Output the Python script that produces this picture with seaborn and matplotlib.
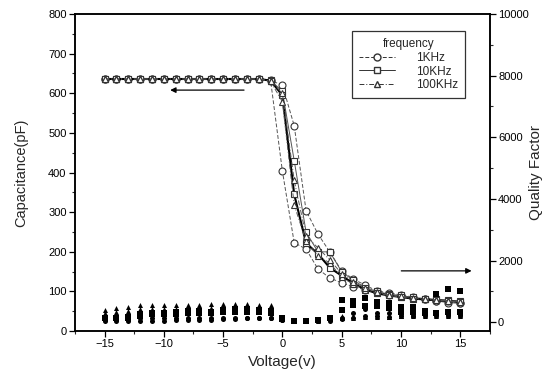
import numpy as np
import pandas as pd
import matplotlib
matplotlib.use("Agg")
import matplotlib.pyplot as plt
from matplotlib.ticker import MultipleLocator
from matplotlib.lines import Line2D
import seaborn as sns

# --------------------------------------------------------------------------
# Data
# --------------------------------------------------------------------------
voltage = list(range(-15, 16))
flat = [636] * 14  # -15 .. -2

cap_1k_a = flat + [634, 404, 223, 207, 157, 134, 122, 112, 104, 98, 92, 88, 84, 80, 76, 72, 70]
cap_1k_b = flat + [632, 621, 518, 304, 245, 200, 152, 131, 116, 101, 97, 91, 86, 81, 77, 76, 71]
cap_10k_a = flat + [633, 605, 430, 250, 200, 200, 150, 128, 110, 100, 93, 90, 85, 82, 80, 78, 75]
cap_10k_b = flat + [632, 595, 345, 222, 195, 160, 140, 120, 105, 95, 90, 86, 82, 80, 78, 76, 74]
cap_100k_a = flat + [630, 579, 318, 227, 190, 172, 136, 118, 104, 96, 90, 86, 82, 80, 78, 76, 73]
cap_100k_b = flat + [631, 600, 380, 240, 210, 180, 145, 125, 108, 98, 92, 88, 84, 81, 79, 77, 74]

q_1k_a = [130, 130, 130, 130, 130, 130, 130, 130, 135, 140, 140, 140, 140, 140, 140,
          65, 32, 32, 60, 100, 120, 290, 412, 300, 300, 250, 260, 240, 230, 230, 240]
q_1k_b = [42, 42, 42, 42, 45, 50, 60, 60, 70, 80, 100, 110, 120, 120, 130,
          60, 30, 30, 30, 32, 110, 120, 195, 200, 172, 195, 217, 227, 230, 227, 227]
q_10k_a = [140, 150, 170, 250, 300, 300, 330, 350, 360, 335, 400, 420, 420, 400, 367,
           120, 32, 32, 65, 150, 714, 680, 800, 640, 607, 477, 477, 367, 909, 1071, 1016]
q_10k_b = [120, 130, 150, 200, 250, 260, 280, 300, 300, 300, 330, 340, 340, 330, 300,
           100, 30, 30, 60, 120, 400, 550, 530, 530, 445, 335, 335, 300, 300, 330, 335]
q_100k_a = [390, 470, 500, 550, 560, 550, 560, 560, 570, 575, 575, 580, 575, 570, 550,
            150, 40, 35, 60, 170, 195, 195, 195, 195, 175, 195, 220, 230, 240, 230, 230]
q_100k_b = [300, 330, 350, 420, 440, 420, 440, 450, 460, 465, 470, 470, 465, 460, 420,
            130, 30, 30, 30, 140, 150, 150, 170, 180, 180, 190, 200, 205, 210, 205, 200]

FREQS = ["1KHz", "10KHz", "100KHz"]
MARKERS = {"1KHz": "o", "10KHz": "s", "100KHz": "^"}
LINESTYLES = {"1KHz": (0, (4, 2)), "10KHz": "-", "100KHz": (0, (5, 2, 1, 2))}

cap_series = {
    ("1KHz", "a"): cap_1k_a, ("1KHz", "b"): cap_1k_b,
    ("10KHz", "a"): cap_10k_a, ("10KHz", "b"): cap_10k_b,
    ("100KHz", "a"): cap_100k_a, ("100KHz", "b"): cap_100k_b,
}
q_series = {
    ("1KHz", "a"): q_1k_a, ("1KHz", "b"): q_1k_b,
    ("10KHz", "a"): q_10k_a, ("10KHz", "b"): q_10k_b,
    ("100KHz", "a"): q_100k_a, ("100KHz", "b"): q_100k_b,
}

# --------------------------------------------------------------------------
# Plot
# --------------------------------------------------------------------------
sns.set_style("ticks")
plt.rcParams["font.family"] = ["Liberation Sans", "DejaVu Sans"]

fig = plt.figure(figsize=(5.43, 3.78), dpi=100)
ax = fig.add_axes([0.138, 0.124, 0.764, 0.839])

for (freq, branch), vals in cap_series.items():
    df = pd.DataFrame({"V": voltage, "C": vals})
    thick = freq == "10KHz" and branch == "b"
    sns.lineplot(data=df, x="V", y="C", ax=ax,
                 color="black" if thick else "#555555",
                 linewidth=1.5 if thick else 0.7,
                 linestyle=LINESTYLES[freq],
                 marker=MARKERS[freq], markersize=5,
                 markerfacecolor="white", markeredgecolor="#333333",
                 markeredgewidth=0.8)

ax2 = ax.twinx()
for (freq, branch), vals in q_series.items():
    df = pd.DataFrame({"V": voltage, "Q": vals})
    sns.scatterplot(data=df, x="V", y="Q", ax=ax2, color="black",
                    marker=MARKERS[freq], s=13, linewidth=0)

# arrows showing which axis each group belongs to
ax.annotate("", xy=(-9.7, 608), xytext=(-3, 608),
            arrowprops=dict(arrowstyle="-|>", color="black", lw=0.9,
                            mutation_scale=8))
ax.annotate("", xy=(16.2, 152), xytext=(9.8, 152),
            arrowprops=dict(arrowstyle="-|>", color="black", lw=0.9,
                            mutation_scale=8))

ax.set_xlim(-17.5, 17.5)
ax.set_ylim(0, 800)
ax2.set_ylim(-290, 10000)

ax.xaxis.set_major_locator(MultipleLocator(5))
ax.xaxis.set_minor_locator(MultipleLocator(2.5))
ax.yaxis.set_major_locator(MultipleLocator(100))
ax.yaxis.set_minor_locator(MultipleLocator(50))
ax2.yaxis.set_major_locator(MultipleLocator(2000))
ax2.yaxis.set_minor_locator(MultipleLocator(1000))

for a in (ax, ax2):
    for s in a.spines.values():
        s.set_visible(True)
        s.set_linewidth(1.1)
        s.set_color("black")
    a.tick_params(which="major", direction="out", length=4, width=0.9,
                  labelsize=8, colors="black", pad=2)
    a.tick_params(which="minor", direction="out", length=2.5, width=0.8)

ax.set_xlabel("Voltage(v)", fontsize=11, labelpad=4)
ax.set_ylabel("Capacitance(pF)", fontsize=10.5, labelpad=14)
ax2.set_ylabel("Quality Factor", fontsize=11, labelpad=0)

handles = [Line2D([], [], color="#333333", linewidth=0.7, linestyle=LINESTYLES[f],
                  marker=MARKERS[f], markersize=5, markerfacecolor="white",
                  markeredgecolor="#333333") for f in FREQS]
leg = ax.legend(handles, FREQS, title="frequency", loc="upper right",
                bbox_to_anchor=(0.955, 0.965), fontsize=8.5, title_fontsize=8.5,
                frameon=True, fancybox=False, edgecolor="black",
                handlelength=3, borderpad=0.6, labelspacing=0.15, handletextpad=1.8)
leg.get_frame().set_linewidth(0.9)

fig.savefig("out.png", dpi=100)
